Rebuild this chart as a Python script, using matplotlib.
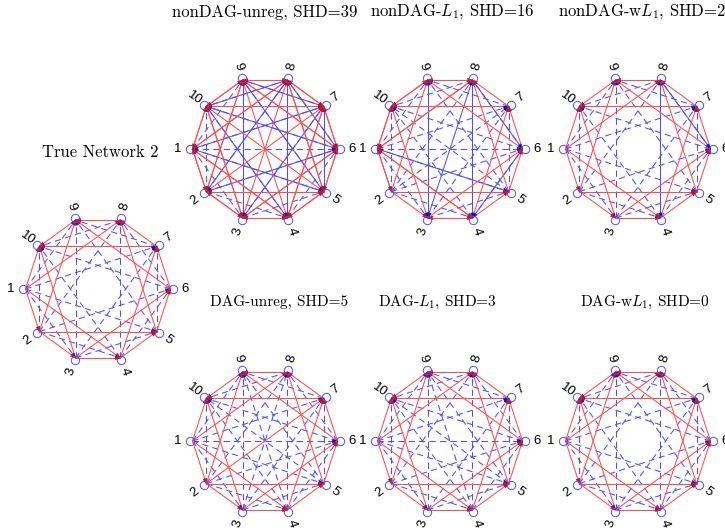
import numpy as np
import matplotlib.pyplot as plt
from matplotlib.patches import Polygon

plt.rcParams['mathtext.fontset'] = 'cm'

# true network: red = solid edges, blue = dashed edges (src -> dst)
true_red = [(1, 2), (2, 3), (3, 4), (4, 5), (5, 6), (6, 7), (7, 8), (8, 9), (9, 10), (1, 10),
            (1, 4), (2, 5), (3, 6), (4, 7), (5, 8), (6, 9), (7, 10), (1, 8), (2, 9), (3, 10)]
true_dash = [(1, 3), (2, 4), (3, 5), (4, 6), (5, 7), (6, 8), (7, 9), (8, 10), (1, 9), (2, 10),
             (1, 5), (2, 6), (3, 7), (4, 8), (5, 9), (6, 10), (1, 7), (2, 8), (3, 9), (4, 10)]

# estimated networks: edges found on top of the true ones
unreg_red = [(2, 1), (3, 2), (4, 3), (5, 4), (6, 5), (7, 6), (8, 7), (9, 8), (10, 9), (10, 1),
             (4, 1), (5, 2), (6, 3), (7, 4), (8, 5), (9, 6), (10, 7), (8, 1), (9, 2), (10, 3),
             (2, 7), (3, 8), (4, 9), (5, 10)]
unreg_dash = [(1, 6)]
unreg_solid = [(9, 3), (8, 4), (9, 5), (8, 2), (10, 6), (7, 3), (6, 2), (5, 1), (10, 4),
               (7, 5), (8, 6), (9, 7), (7, 1), (10, 8)]

l1_red = [(2, 1), (10, 1), (4, 1), (8, 1), (9, 8), (4, 3), (10, 9)]
l1_dash = [(1, 6), (5, 10), (2, 7)]
l1_solid = [(9, 3), (8, 4), (8, 6), (8, 3), (5, 1), (6, 4)]

wl1_red = []
wl1_dash = []
wl1_solid = [(8, 6), (8, 4)]

dag_unreg_red = [(2, 7)]
dag_unreg_dash = [(1, 6), (5, 10), (4, 9), (3, 8)]
dag_unreg_solid = []

dag_l1_red = []
dag_l1_dash = [(1, 6), (5, 10), (4, 9)]
dag_l1_solid = []

dag_wl1_red = []
dag_wl1_dash = []
dag_wl1_solid = []

titles = ['True Network 2',
          'nonDAG-unreg, SHD=39', 'nonDAG-$L_1$, SHD=16', 'nonDAG-w$L_1$, SHD=2',
          'DAG-unreg, SHD=5', 'DAG-$L_1$, SHD=3', 'DAG-w$L_1$, SHD=0']

RED = '#ff4d4d'
BLUE = '#4d4dff'
R_LINE = 72.5
R_NODE = 75
R_LAB = 87


def node_xy(cx, cy, k, r):
    t = np.deg2rad(180 + (k - 1) * 36)
    return cx + r * np.cos(t), cy - r * np.sin(t)


def arrow_head(ax, p0, p1, color):
    p0 = np.array(p0); p1 = np.array(p1)
    d = (p1 - p0) / np.hypot(*(p1 - p0))
    n = np.array([-d[1], d[0]])
    base = p1 - 5 * d
    ax.add_patch(Polygon([p1, base + 1.8 * n, base - 1.8 * n], closed=True,
                         fc=color, ec=color, lw=0.3, zorder=4))


def draw_net(ax, cx, cy, red, dash, solid):
    # blue first, red drawn over it
    groups = [(dash, BLUE, (0, (6, 4)), '#1010c0', 2),
              (solid, BLUE, '-', '#1010c0', 2),
              (red, RED, '-', '#d01010', 3)]
    for edges, col, ls, hc, z in groups:
        for s, t in edges:
            p0 = node_xy(cx, cy, s, R_LINE)
            p1 = node_xy(cx, cy, t, R_LINE)
            ax.plot([p0[0], p1[0]], [p0[1], p1[1]], color=col, ls=ls, lw=0.75, zorder=z)
    for edges, col, ls, hc, z in groups:
        for s, t in edges:
            arrow_head(ax, node_xy(cx, cy, s, R_LINE), node_xy(cx, cy, t, R_LINE), hc)
    for k in range(1, 11):
        x, y = node_xy(cx, cy, k, R_NODE)
        ax.plot(x, y, 'o', mfc='none', mec=BLUE, ms=6, mew=0.7, zorder=5)
        ang = 180 + (k - 1) * 36
        rot = ang - 180 if np.cos(np.deg2rad(ang)) < 0 else ang
        if rot > 180:
            rot -= 360
        lx, ly = node_xy(cx, cy, k, R_LAB)
        ax.text(lx, ly, str(k), ha='center', va='center', rotation=rot,
                rotation_mode='anchor', fontsize=9.5, family='Liberation Sans')


fig = plt.figure(figsize=(7.25, 5.31), dpi=100)
ax = fig.add_axes([0, 0, 1, 1])
ax.set_xlim(0, 725)
ax.set_ylim(531, 0)
ax.axis('off')

draw_net(ax, 98, 289, true_red, true_dash, [])
draw_net(ax, 265, 149, true_red + unreg_red, true_dash + unreg_dash, unreg_solid)
draw_net(ax, 450, 149, true_red + l1_red, true_dash + l1_dash, l1_solid)
draw_net(ax, 638, 149, true_red + wl1_red, true_dash + wl1_dash, wl1_solid)
draw_net(ax, 265, 441, true_red + dag_unreg_red, true_dash + dag_unreg_dash, dag_unreg_solid)
draw_net(ax, 450, 441, true_red + dag_l1_red, true_dash + dag_l1_dash, dag_l1_solid)
draw_net(ax, 638, 441, true_red + dag_wl1_red, true_dash + dag_wl1_dash, dag_wl1_solid)

tkw = dict(family='cmr10', va='center')
ax.text(100, 152, titles[0], ha='center', fontsize=12, **tkw)
ax.text(265, 12, titles[1], ha='center', fontsize=12, **tkw)
ax.text(452, 12, titles[2], ha='center', fontsize=12, **tkw)
ax.text(558, 12, titles[3], ha='left', fontsize=12, **tkw)
ax.text(279, 302, titles[4], ha='center', fontsize=11, **tkw)
ax.text(437, 302, titles[5], ha='center', fontsize=11, **tkw)
ax.text(645, 302, titles[6], ha='center', fontsize=11, **tkw)

fig.savefig('out.png', dpi=100)
